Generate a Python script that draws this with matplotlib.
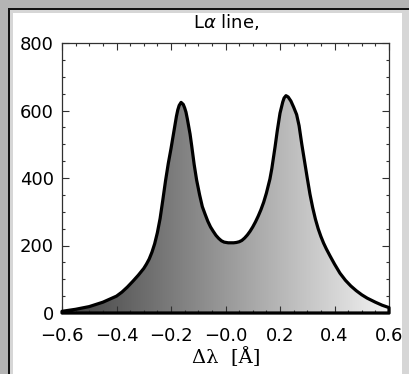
import numpy as np
import matplotlib
matplotlib.use("Agg")
import matplotlib.pyplot as plt
from matplotlib.patches import Rectangle, Polygon
from matplotlib.colors import LinearSegmentedColormap
from matplotlib.ticker import MultipleLocator

# ---- data ----
wavelength = [-0.60, -0.55, -0.50, -0.45, -0.40, -0.38, -0.36, -0.34, -0.32,
              -0.30, -0.29, -0.28, -0.27, -0.26, -0.25, -0.24, -0.23, -0.22,
              -0.21, -0.20, -0.19, -0.18, -0.175, -0.17, -0.163, -0.155, -0.15,
              -0.145, -0.14, -0.13, -0.124, -0.115, -0.106, -0.095, -0.085,
              -0.075, -0.065, -0.055, -0.045, -0.035, -0.025, -0.015, -0.005,
              0.01, 0.02, 0.03, 0.04, 0.05, 0.06, 0.07, 0.08, 0.09, 0.10, 0.11,
              0.12, 0.13, 0.14, 0.15, 0.163, 0.17, 0.182, 0.19, 0.20, 0.21,
              0.215, 0.222, 0.23, 0.24, 0.25, 0.261, 0.27, 0.28, 0.29, 0.30,
              0.31, 0.32, 0.33, 0.34, 0.35, 0.36, 0.37, 0.383, 0.40, 0.42,
              0.44, 0.46, 0.48, 0.50, 0.52, 0.55, 0.575, 0.60]
intensity = [5, 11, 19, 32, 50, 62, 77, 94, 112,
             132, 145, 160, 180, 205, 238, 280, 335, 392,
             443, 487, 535, 583, 602, 615, 624, 618, 608,
             595, 575, 530, 495, 440, 394, 350, 315,
             293, 272, 255, 242, 230, 221, 214, 210,
             208, 208, 208, 209, 211, 215, 222, 231, 242, 255, 270,
             287, 306, 328, 355, 397, 428, 493, 540, 592, 625,
             637, 644, 640, 628, 610, 588, 555, 500, 450, 400,
             352, 312, 278, 250, 227, 207, 190, 170, 145, 118,
             97, 80, 66, 54, 44, 32, 23, 16]
xtick_values = [-0.6, -0.4, -0.2, 0.0, 0.2, 0.4, 0.6]
xtick_labels = ['\u22120.6', '\u22120.4', '\u22120.2', '\u22120.0', '0.2', '0.4', '0.6']
ytick_values = [0, 200, 400, 600, 800]
title_text = 'L$\\alpha$ line,'
xlabel_text = '\u0394\u03bb  [\u00c5]'

W, H = 410, 374
fig = plt.figure(figsize=(W / 100, H / 100), dpi=100, facecolor='#b4b4b4')

def prect(x0, y0, x1, y1, color):
    fig.patches.append(Rectangle((x0, H - y1), x1 - x0, y1 - y0, transform=None,
                                 facecolor=color, edgecolor='none', zorder=-5))

prect(8, 8, W, H, '#141414')
prect(10, 10, W, H, '#d6d6d6')
prect(13, 13, 402, H, '#ffffff')

ax = fig.add_axes([62 / W, 1 - 313 / H, (389 - 62) / W, (313 - 43) / H])
ax.set_zorder(2)
ax.set_facecolor('none')
ax.set_xlim(-0.6, 0.6)
ax.set_ylim(0, 800)

xs = np.array(wavelength)
ys = np.array(intensity)
verts = [(xs[0], 0)] + list(zip(xs, ys)) + [(xs[-1], 0)]
cmap = LinearSegmentedColormap.from_list('g', [(0.25, 0.25, 0.25), (0.95, 0.95, 0.95)])
grad = np.linspace(0, 1, 256).reshape(1, -1)
im = ax.imshow(grad, extent=[-0.6, 0.6, 0, 800], aspect='auto', cmap=cmap,
               origin='lower', zorder=1)
clip = Polygon(verts, closed=True, transform=ax.transData, facecolor='none')
im.set_clip_path(clip)
outline = Polygon(verts, closed=True, facecolor='none', edgecolor='black',
                  linewidth=2.3, joinstyle='round', zorder=3, clip_on=False)
ax.add_patch(outline)

for s in ax.spines.values():
    s.set_color('#303030')
    s.set_linewidth(0.9)
ax.set_xticks(xtick_values)
ax.set_xticklabels(xtick_labels)
ax.set_yticks(ytick_values)
ax.xaxis.set_minor_locator(MultipleLocator(0.05))
ax.yaxis.set_minor_locator(MultipleLocator(50))
ax.tick_params(which='both', direction='in', top=True, right=True,
               colors='#303030', labelcolor='black')
ax.tick_params(which='major', length=5, width=0.8)
ax.tick_params(which='minor', length=2.5, width=0.8)
ax.tick_params(axis='x', which='major', pad=10, labelsize=13)
ax.tick_params(axis='y', which='major', pad=6, labelsize=13)
for lab in ax.get_xticklabels() + ax.get_yticklabels():
    lab.set_family('DejaVu Sans')

fig.text(226 / W, 1 - 22 / H, title_text, ha='center', va='center',
         fontsize=13, family='DejaVu Sans')
fig.text(226 / W, 1 - 357 / H, xlabel_text, ha='center', va='center',
         fontsize=14, family='DejaVu Serif')

fig.savefig('out.png', dpi=100, facecolor=fig.get_facecolor())
